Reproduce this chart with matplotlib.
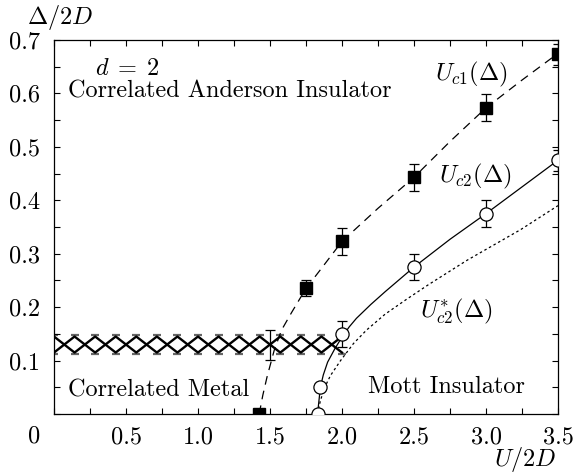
import matplotlib.pyplot as plt
import numpy as np
from matplotlib.ticker import MultipleLocator, FuncFormatter

plt.rcParams['font.family'] = 'cmr10'
plt.rcParams['mathtext.fontset'] = 'cm'
plt.rcParams['axes.formatter.use_mathtext'] = True

# U_c1(Delta): filled squares with error bars
uc1_u = [1.425, 1.75, 2.0, 2.5, 3.0, 3.5]
uc1_d = [0.0, 0.235, 0.323, 0.443, 0.573, 0.673]
uc1_err = [0.0, 0.015, 0.025, 0.025, 0.025, 0.02]

# lone error bar sitting on the metal band
edge_u = [1.5]
edge_d = [0.13]
edge_err = [0.028]

# U_c2(Delta): open circles
uc2_u = [1.83, 1.85, 2.0, 2.5, 3.0, 3.5]
uc2_d = [0.0, 0.05, 0.15, 0.275, 0.375, 0.475]
uc2_err = [0.0, 0.0, 0.025, 0.025, 0.025, 0.02]

# guide curves
dash_u = [1.425, 1.45, 1.48, 1.53, 1.58, 1.65, 1.75, 1.85, 2.0, 2.25, 2.5, 2.75, 3.0, 3.25, 3.5]
dash_d = [0.0, 0.035, 0.07, 0.12, 0.157, 0.19, 0.235, 0.27, 0.323, 0.385, 0.443, 0.51, 0.573, 0.625, 0.675]

solid_u = [1.83, 1.85, 1.87, 1.9, 1.95, 2.0, 2.05, 2.1, 2.2, 2.3, 2.4, 2.5, 2.75, 3.0, 3.25, 3.5]
solid_d = [0.0, 0.05, 0.073, 0.097, 0.122, 0.144, 0.163, 0.179, 0.205, 0.229, 0.252, 0.275, 0.327, 0.375, 0.425, 0.475]

dot_u = [1.83, 1.85, 1.88, 1.92, 1.99, 2.08, 2.17, 2.3, 2.45, 2.6, 2.87, 3.24, 3.5]
dot_d = [0.0, 0.025, 0.05, 0.072, 0.1, 0.132, 0.157, 0.187, 0.215, 0.242, 0.288, 0.345, 0.39]

# hatched band of the correlated metal
band_u = (0.0, 2.0)
band_d = (0.115, 0.145)
band_cells = 14


def main():
    fs = 17.5
    fig = plt.figure(figsize=(5.74, 4.73), dpi=100)
    ax = fig.add_axes([54 / 574, 1 - 414 / 473, 504 / 574, 374 / 473])

    # zigzag pair crossing inside the band
    xs = np.linspace(band_u[0], band_u[1], band_cells + 1)
    up = np.array([band_d[1] if i % 2 == 0 else band_d[0] for i in range(len(xs))])
    lo = np.array([band_d[0] if i % 2 == 0 else band_d[1] for i in range(len(xs))])
    ax.plot(xs, up, color='black', lw=1.7, zorder=2)
    ax.plot(xs, lo, color='black', lw=1.7, zorder=2)
    ax.plot(xs, np.full(len(xs), band_d[1] + 0.003), ls='none', marker='_',
            ms=5.5, mew=1.6, color='0.4', zorder=1)
    ax.plot(xs, np.full(len(xs), band_d[0] - 0.003), ls='none', marker='_',
            ms=5.5, mew=1.6, color='0.4', zorder=1)

    ax.plot(dash_u, dash_d, color='black', lw=0.9, dashes=(7, 5), zorder=3)
    ax.plot(solid_u, solid_d, color='black', lw=0.9, zorder=3)
    ax.plot(dot_u, dot_d, color='black', lw=0.9, dashes=(2, 2.2), zorder=3)

    ax.errorbar(edge_u, edge_d, yerr=edge_err, fmt='none', ecolor='black',
                elinewidth=0.9, capsize=3.5, capthick=0.9, zorder=4)
    ax.errorbar(uc1_u, uc1_d, yerr=uc1_err, fmt='s', color='black', ms=8,
                elinewidth=0.9, capsize=3.5, capthick=0.9, zorder=5)
    ax.errorbar(uc2_u, uc2_d, yerr=uc2_err, fmt='o', color='black', mfc='white',
                mec='black', mew=0.9, ms=9.5, elinewidth=0.9, capsize=3.5,
                capthick=0.9, zorder=5)

    ax.set_xlim(0, 3.5)
    ax.set_ylim(0, 0.7)
    ax.xaxis.set_major_locator(MultipleLocator(0.5))
    ax.xaxis.set_minor_locator(MultipleLocator(0.25))
    ax.yaxis.set_major_locator(MultipleLocator(0.1))
    ax.yaxis.set_minor_locator(MultipleLocator(0.05))
    ax.xaxis.set_major_formatter(FuncFormatter(lambda v, p: '' if v < 1e-9 else f'{v:.1f}'))
    ax.yaxis.set_major_formatter(FuncFormatter(lambda v, p: '' if v < 1e-9 else f'{v:.1f}'))
    ax.tick_params(which='both', direction='in', top=True, right=True,
                   length=4, width=0.8, labelsize=fs)
    ax.tick_params(axis='x', pad=9)
    ax.tick_params(axis='y', pad=10)
    for s in ax.spines.values():
        s.set_linewidth(0.9)

    fig.text(34 / 574, 1 - 436 / 473, '0', fontsize=fs, ha='center', va='center')
    fig.text(60 / 574, 1 - 17 / 473, r'$\Delta/2D$', fontsize=fs, ha='center', va='center')
    fig.text(525 / 574, 1 - 459 / 473, r'$U/2D$', fontsize=fs, ha='center', va='center')

    ax.text(0.51, 0.645, r'$d\;=\;2$', fontsize=fs, ha='center', va='center')
    ax.text(0.095, 0.592, 'Correlated Anderson Insulator', fontsize=fs, va='baseline')
    ax.text(0.095, 0.032, 'Correlated Metal', fontsize=fs, va='baseline')
    ax.text(2.18, 0.039, 'Mott Insulator', fontsize=fs, va='baseline')
    ax.text(2.646, 0.635, r'$U_{c1}(\Delta)$', fontsize=fs, va='center')
    ax.text(2.674, 0.444, r'$U_{c2}(\Delta)$', fontsize=fs, va='center')
    ax.text(2.54, 0.192, r'$U^{*}_{c2}(\Delta)$', fontsize=fs, va='center')

    fig.savefig('out.png', dpi=100)


if __name__ == "__main__":
    main()
